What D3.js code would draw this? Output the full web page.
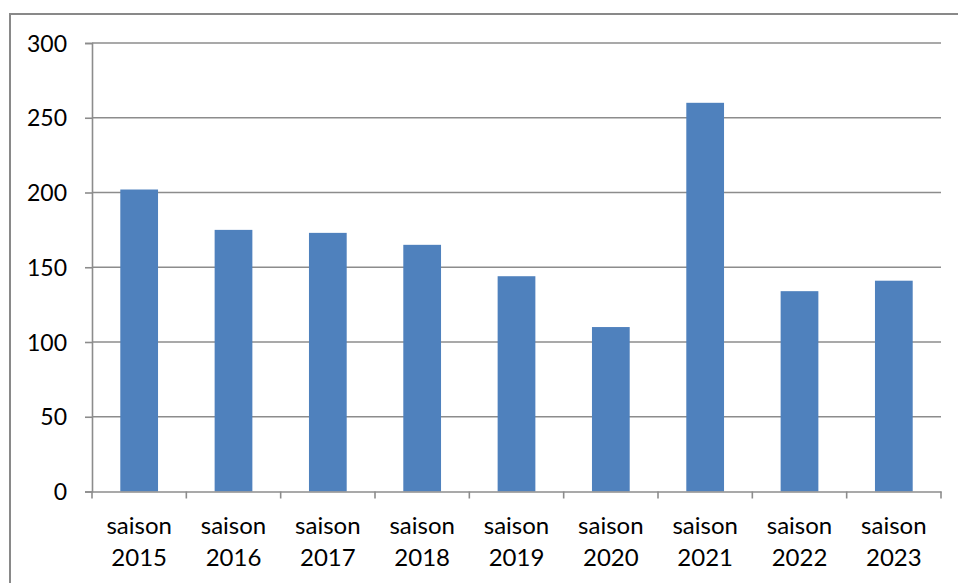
<!DOCTYPE html>
<html><head><meta charset="utf-8">
<script src="https://cdn.jsdelivr.net/npm/d3@7/dist/d3.min.js"></script>
<style>html,body{margin:0;padding:0;background:#fff;}svg{display:block;}</style>
</head><body>
<svg id="c" width="958" height="583"></svg>
<script>
const categories = ["saison 2015","saison 2016","saison 2017","saison 2018","saison 2019","saison 2020","saison 2021","saison 2022","saison 2023"];
const values = [202, 175, 173, 165, 144, 110, 260, 134, 141];
const yTicks = [0, 50, 100, 150, 200, 250, 300];

const svg = d3.select("#c");
const font = "Lato, 'Open Sans', sans-serif";
const plotLeft = 92, plotRight = 941, plotTop = 43, plotBottom = 491.5;

svg.append("rect").attr("x", 10).attr("y", 14).attr("width", 960).attr("height", 600)
  .attr("fill", "none").attr("stroke", "#898989").attr("stroke-width", 2);

const x = d3.scaleBand().domain(categories).range([plotLeft, plotRight]).paddingInner(0.6).paddingOuter(0.3);
const xb = d3.scaleBand().domain(categories).range([plotLeft, plotRight]);
const y = d3.scaleLinear().domain([0, 300]).range([plotBottom, plotTop]);

// gridlines
svg.append("g").selectAll("line").data(yTicks.filter(d => d > 0)).join("line")
  .attr("x1", plotLeft).attr("x2", plotRight).attr("y1", d => y(d)).attr("y2", d => y(d))
  .attr("stroke", "#8c8c8c").attr("stroke-width", 1.6);

// bars
svg.append("g").selectAll("rect").data(values).join("rect")
  .attr("x", (d, i) => x(categories[i])).attr("width", x.bandwidth())
  .attr("y", d => y(d)).attr("height", d => y(0) - y(d))
  .attr("fill", "#4f81bd");

// y axis
const yAxis = svg.append("g").attr("transform", `translate(${plotLeft},0)`)
  .call(d3.axisLeft(y).tickValues(yTicks).tickSize(7).tickPadding(18));
yAxis.select(".domain").attr("stroke", "#8c8c8c").attr("stroke-width", 1.6);
yAxis.selectAll(".tick line").attr("stroke", "#8c8c8c").attr("stroke-width", 1.6);
yAxis.selectAll("text").attr("font-family", font).attr("font-size", 23).attr("fill", "#000").attr("dy", "0.35em");

// x axis
const xAxis = svg.append("g").attr("transform", `translate(0,${plotBottom})`)
  .call(d3.axisBottom(xb).tickSize(0).tickFormat(""));
xAxis.select(".domain").attr("stroke", "#8c8c8c").attr("stroke-width", 1.6);
xAxis.selectAll(".tick").remove();
const edges = categories.map(c => xb(c)).concat([plotRight]);
xAxis.selectAll("line.t").data(edges).join("line").attr("class", "t")
  .attr("x1", d => d).attr("x2", d => d).attr("y1", 0).attr("y2", 7)
  .attr("stroke", "#8c8c8c").attr("stroke-width", 1.6);

const lbl = svg.append("g").selectAll("text").data(categories).join("text")
  .attr("x", d => xb(d) + xb.bandwidth() / 2).attr("y", 534)
  .attr("text-anchor", "middle").attr("font-family", font).attr("font-size", 24).attr("fill", "#000");
lbl.each(function(d) {
  const parts = d.split(" ");
  const t = d3.select(this);
  t.append("tspan").attr("x", t.attr("x")).attr("dy", 0).text(parts[0]);
  t.append("tspan").attr("x", t.attr("x")).attr("dy", 32).text(parts[1]);
});
</script>
</body></html>
